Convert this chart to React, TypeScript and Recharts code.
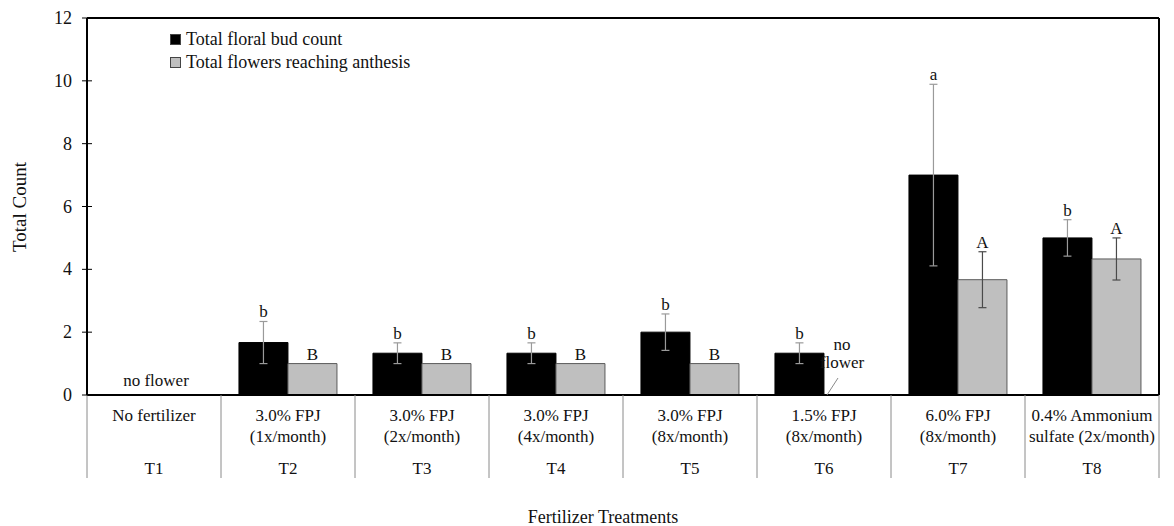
import React from 'react';
import { BarChart, Bar, XAxis, YAxis, ErrorBar, LabelList, ReferenceLine, ReferenceDot, Label } from 'recharts';

const treatments = ['T1', 'T2', 'T3', 'T4', 'T5', 'T6', 'T7', 'T8'];
const descLine1 = ['No fertilizer', '3.0% FPJ', '3.0% FPJ', '3.0% FPJ', '3.0% FPJ', '1.5% FPJ', '6.0% FPJ', '0.4% Ammonium'];
const descLine2 = ['', '(1x/month)', '(2x/month)', '(4x/month)', '(8x/month)', '(8x/month)', '(8x/month)', 'sulfate (2x/month)'];
const budCount = [0, 1.67, 1.33, 1.33, 2.0, 1.33, 7.0, 5.0];
const budErr = [0, 0.67, 0.33, 0.33, 0.58, 0.33, 2.89, 0.58];
const budLetters = ['', 'b', 'b', 'b', 'b', 'b', 'a', 'b'];
const flowerCount = [0, 1, 1, 1, 1, 0, 3.67, 4.33];
const flowerErr = [0, 0, 0, 0, 0, 0, 0.89, 0.67];
const flowerLetters = ['', 'B', 'B', 'B', 'B', '', 'A', 'A'];
const noteTreatments = ['T1', 'T6'];
const noteTexts = [['no flower'], ['no', 'flower']];
const yTicks = [0, 2, 4, 6, 8, 10, 12];
const seriesNames = ['Total floral bud count', 'Total flowers reaching anthesis'];
const seriesColors = ['#000000', '#bfbfbf'];

const data = treatments.map((t, i) => ({
  id: t,
  bud: budCount[i],
  budErr: budErr[i],
  flower: flowerCount[i],
  flowerErr: flowerErr[i],
}));

const W = 1174;
const H = 526;
const M = { top: 18, right: 14, left: 0, bottom: 0 };
const Y_W = 87;
const X_H = 131;
const BAND = (W - M.left - M.right - Y_W - 1) / treatments.length;
const PLOT_BOTTOM = H - M.bottom - X_H;
const FONT = '"Times New Roman", "Liberation Serif", "DejaVu Serif", serif';

const XTick = (props: any) => {
  const { x, y, index } = props;
  const half = BAND / 2;
  return (
    <g fontFamily={FONT} fontSize={17} fill="#111">
      <line x1={x - half} y1={y} x2={x - half} y2={y + 83} stroke="#8a8a8a" />
      {index === treatments.length - 1 && (
        <line x1={x + half} y1={y} x2={x + half} y2={y + 83} stroke="#8a8a8a" />
      )}
      <text x={x} y={y + 26} textAnchor="middle" fill="#111" fontFamily={FONT}>{descLine1[index]}</text>
      <text x={x} y={y + 47} textAnchor="middle" fill="#111" fontFamily={FONT}>{descLine2[index]}</text>
      <text x={x} y={y + 79} textAnchor="middle" fill="#111" fontFamily={FONT}>{treatments[index]}</text>
    </g>
  );
};

const YTick = (props: any) => {
  const { x, y, payload } = props;
  return (
    <g>
      <line x1={x - 5} y1={y} x2={x + 5} y2={y} stroke="#000" />
      <text x={x - 15} y={y + 6} textAnchor="end" fontFamily={FONT} fontSize={18} fill="#111">
        {payload.value}
      </text>
    </g>
  );
};

// letter sits just above the error-bar cap; pixels per unit taken from the bar rect the library drew
const letterLabel = (letters: string[], errs: number[], vals: number[]) => (props: any) => {
  const { value, viewBox } = props;
  const i = treatments.indexOf(String(value));
  if (i < 0 || !letters[i] || !viewBox) return null;
  const barTop = Math.min(viewBox.y, viewBox.y + viewBox.height);
  const cx = viewBox.x + viewBox.width / 2;
  const v = vals[i];
  const ppu = v > 0 ? (PLOT_BOTTOM - barTop) / v : 0;
  const top = barTop - errs[i] * ppu;
  return (
    <text x={cx} y={top - 4} textAnchor="middle" fontFamily={FONT} fontSize={17} fill="#111">
      {letters[i]}
    </text>
  );
};

const noteLabel = (lines: string[]) => (props: any) => {
  const { viewBox } = props;
  const x = viewBox.x;
  const y = viewBox.y;
  if (lines.length === 1) {
    return (
      <text x={x + 2} y={y - 9} textAnchor="middle" fontFamily={FONT} fontSize={17} fill="#111">
        {lines[0]}
      </text>
    );
  }
  const cx = x + 18;
  return (
    <g>
      <line x1={x + 3} y1={y} x2={x + 14} y2={y - 17} stroke="#8a8a8a" />
      <text x={cx} y={y - 45} textAnchor="middle" fontFamily={FONT} fontSize={17} fill="#111">{lines[0]}</text>
      <text x={cx} y={y - 27} textAnchor="middle" fontFamily={FONT} fontSize={17} fill="#111">{lines[1]}</text>
    </g>
  );
};

export default function App() {
  return (
    <div style={{ position: 'absolute', left: 0, top: 0, width: W, height: H, background: '#fff', overflow: 'hidden' }}>
      <BarChart width={W} height={H} data={data} margin={M} barCategoryGap="13.4%" barGap={0}>
        <XAxis
          dataKey="id"
          height={X_H}
          interval={0}
          tickLine={false}
          tickSize={0}
          tickMargin={0}
          tick={<XTick />}
          axisLine={{ stroke: '#000', strokeWidth: 2 }}
        >
          <Label
            content={() => (
              <text x={603} y={523} textAnchor="middle" fontFamily={FONT} fontSize={18} fill="#111">
                Fertilizer Treatments
              </text>
            )}
          />
        </XAxis>
        <YAxis
          yAxisId="left"
          width={Y_W}
          domain={[0, 12]}
          ticks={yTicks}
          interval={0}
          tickLine={false}
          tickSize={0}
          tickMargin={0}
          tick={<YTick />}
          axisLine={{ stroke: '#000', strokeWidth: 2 }}
        >
          <Label
            content={() => (
              <text
                x={26}
                y={207}
                transform="rotate(-90 26 207)"
                textAnchor="middle"
                fontFamily={FONT}
                fontSize={19}
                fill="#111"
              >
                Total Count
              </text>
            )}
          />
        </YAxis>
        <YAxis
          yAxisId="right"
          orientation="right"
          width={1}
          domain={[0, 12]}
          tick={false}
          tickLine={false}
          axisLine={{ stroke: '#000', strokeWidth: 2 }}
        />
        <ReferenceLine yAxisId="left" y={12} stroke="#000" strokeWidth={2} />
        <Bar
          yAxisId="left"
          dataKey="bud"
          name={seriesNames[0]}
          fill={seriesColors[0]}
          stroke="#000"
          isAnimationActive={false}
        >
          <ErrorBar dataKey="budErr" width={4} stroke="#9a9a9a" strokeWidth={1.2} direction="y" />
          <LabelList dataKey="id" content={letterLabel(budLetters, budErr, budCount)} />
        </Bar>
        <Bar
          yAxisId="left"
          dataKey="flower"
          name={seriesNames[1]}
          fill={seriesColors[1]}
          stroke="#5a5a5a"
          isAnimationActive={false}
        >
          <ErrorBar dataKey="flowerErr" width={4} stroke="#4a4a4a" strokeWidth={1.2} direction="y" />
          <LabelList dataKey="id" content={letterLabel(flowerLetters, flowerErr, flowerCount)} />
        </Bar>
        {noteTreatments.map((t, i) => (
          <ReferenceDot
            key={t}
            yAxisId="left"
            x={t}
            y={0}
            r={0}
            fill="none"
            stroke="none"
            ifOverflow="visible"
            label={{ content: noteLabel(noteTexts[i]) }}
          />
        ))}
      </BarChart>
      <div
        style={{
          position: 'absolute',
          left: 170,
          top: 28,
          fontFamily: FONT,
          fontSize: 18,
          color: '#111',
          lineHeight: '23px',
        }}
      >
        {seriesNames.map((n, i) => (
          <div key={n} style={{ display: 'flex', alignItems: 'center' }}>
            <span
              style={{
                display: 'inline-block',
                width: 9,
                height: 9,
                background: seriesColors[i],
                border: '1px solid #444',
                marginRight: 5,
              }}
            />
            {n}
          </div>
        ))}
      </div>
    </div>
  );
}
